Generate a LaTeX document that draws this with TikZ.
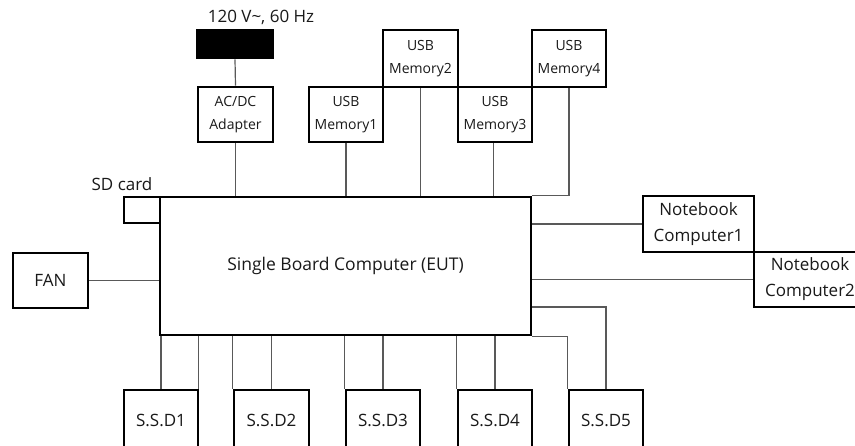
\documentclass[tikz,border=0pt]{standalone}
\usepackage{fontspec}
\setmainfont{Open Sans}
\begin{document}
\begin{tikzpicture}[x=1pt,y=-1pt,
  box/.style={draw=black,line width=2.6pt,fill=white,inner sep=0pt,align=center,text=black!90},
  wire/.style={draw=black!65,line width=1.2pt},
  big/.style={font=\fontsize{17}{26}\selectfont},
  small/.style={font=\fontsize{14}{23}\selectfont},
  lbl/.style={inner sep=0pt,text=black!90}]
\useasboundingbox (0,0) rectangle (855,446);
\clip (0,0) rectangle (855,446);
% nodes
\node[lbl,big] (volt) at (261,17) {120 V\textasciitilde, 60 Hz};
\node[box,fill=black,minimum width=76pt,minimum height=28pt] (plug) at (235,44) {};
\node[box,small,minimum width=75pt,minimum height=55pt] (adapter) at (235.5,114.5) {AC/DC\\Adapter};
\node[box,small,minimum width=74pt,minimum height=55pt] (usb1) at (346,114.5) {USB\\Memory1};
\node[box,small,minimum width=75pt,minimum height=57pt] (usb2) at (420.5,58.5) {USB\\Memory2};
\node[box,small,minimum width=74pt,minimum height=55pt] (usb3) at (495,114.5) {USB\\Memory3};
\node[box,small,minimum width=74pt,minimum height=57pt] (usb4) at (569,58.5) {USB\\Memory4};
\node[box,minimum width=371pt,minimum height=138pt,font=\fontsize{17.5}{20}\selectfont] (main) at (345.5,266) {Single Board Computer (EUT)};
\node[box,minimum width=36pt,minimum height=26pt] (sd) at (142,210) {};
\node[lbl,big] (sdtxt) at (122,184) {SD card};
\node[box,big,minimum width=75pt,minimum height=55pt] (fan) at (50.5,280.5) {FAN};
\node[box,big,minimum width=111pt,minimum height=56pt] (nb1) at (698.5,224) {Notebook\\Computer1};
\node[box,big,minimum width=112pt,minimum height=55pt] (nb2) at (810,279.5) {Notebook\\Computer2};
\node[box,big,minimum width=74pt,minimum height=60pt] (ssd1) at (161,420) {S.S.D1};
\node[box,big,minimum width=75pt,minimum height=60pt] (ssd2) at (271.5,420) {S.S.D2};
\node[box,big,minimum width=74pt,minimum height=60pt] (ssd3) at (383,420) {S.S.D3};
\node[box,big,minimum width=74pt,minimum height=60pt] (ssd4) at (495,420) {S.S.D4};
\node[box,big,minimum width=74pt,minimum height=60pt] (ssd5) at (606,420) {S.S.D5};
% connectors
\draw[wire] (plug.south) -- (adapter.north);
\draw[wire] (adapter.south) -- (adapter.south |- main.north);
\draw[wire] (usb1.south) -- (usb1.south |- main.north);
\draw[wire] (usb2.south) -- (usb2.south |- main.north);
\draw[wire] ([xshift=-1.5pt]usb3.south) -- ([xshift=-1.5pt]usb3.south |- main.north);
\draw[wire] (usb4.south) |- (main.north east);
\draw[wire] (fan.east) -- (fan.east -| main.west);
\draw[wire] (nb1.west) -- (nb1.west -| main.east);
\draw[wire] (nb2.west) -- (nb2.west -| main.east);
\draw[wire] (ssd5.north) |- ([yshift=-41pt]main.east);
\draw[wire] (ssd5.north west) |- (main.south east);
\draw[wire] (ssd1.north) -- (ssd1.north |- main.south);
\draw[wire] ([xshift=-1pt]ssd1.north east) -- ([xshift=-1pt]ssd1.north east |- main.south);
\draw[wire] (ssd2.north west) -- (ssd2.north west |- main.south);
\draw[wire] (ssd2.north) -- (ssd2.north |- main.south);
\draw[wire] (ssd3.north west) -- (ssd3.north west |- main.south);
\draw[wire] (ssd3.north) -- (ssd3.north |- main.south);
\draw[wire] (ssd4.north west) -- (ssd4.north west |- main.south);
\draw[wire] (ssd4.north) -- (ssd4.north |- main.south);
\end{tikzpicture}
\end{document}
